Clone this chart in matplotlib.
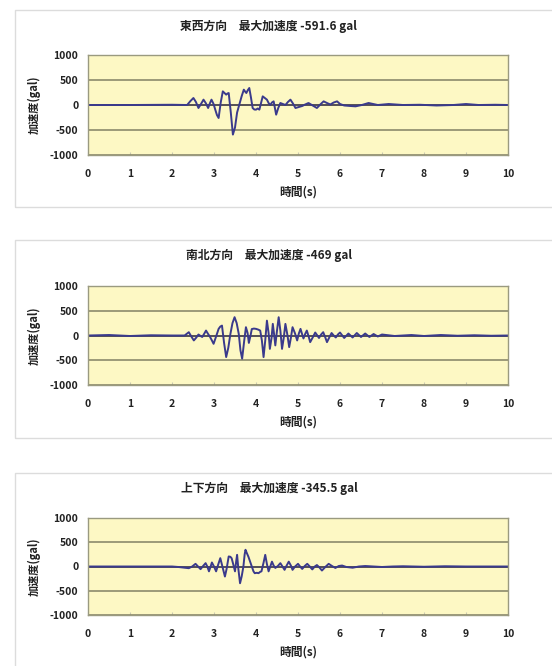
import matplotlib
matplotlib.use("Agg")
import matplotlib.pyplot as plt
from matplotlib.patches import Rectangle

plt.rcParams['font.family'] = ['Noto Sans CJK JP', 'DejaVu Sans']
plt.rcParams['axes.unicode_minus'] = False

W, H = 552, 666

titles = ["東西方向　最大加速度 -591.6 gal",
          "南北方向　最大加速度 -469 gal",
          "上下方向　最大加速度 -345.5 gal"]
ylabel = "加速度(gal)"
xlabel = "時間(s)"
xticks = [0, 1, 2, 3, 4, 5, 6, 7, 8, 9, 10]
yticks = [-1000, -500, 0, 500, 1000]

# East-West
ew_t = [0.0, 1.0, 2.0, 2.36, 2.44, 2.51, 2.57, 2.63, 2.69, 2.75, 2.81, 2.86, 2.9,
        2.94, 2.99, 3.03, 3.07, 3.11, 3.16, 3.21, 3.25, 3.29, 3.32, 3.35, 3.40,
        3.45, 3.50, 3.55, 3.6, 3.66, 3.71, 3.74, 3.77, 3.8, 3.84, 3.88, 3.92,
        3.96, 4.0, 4.04, 4.08, 4.12, 4.16, 4.21, 4.26, 4.30, 4.34, 4.38, 4.42,
        4.45, 4.48, 4.53, 4.58, 4.64, 4.7, 4.76, 4.82, 4.88, 4.94, 5.02, 5.1,
        5.17, 5.25, 5.35, 5.45, 5.53, 5.61, 5.69, 5.77, 5.85, 5.93, 6.0, 6.1,
        6.25, 6.37, 6.52, 6.68, 6.9, 7.16, 7.5, 7.9, 8.3, 8.7, 9.0, 9.3, 9.7, 10.0]
ew_v = [0, 0, 5, 0, 80, 140, 60, -60, 20, 107, 30, -60, 30,
        107, 20, -93, -200, -260, 50, 273, 240, 207, 230, 240, -150,
        -591.6, -450, -150, 0, 180, 307, 270, 240, 290, 340, 150, -60,
        -90, -93, -70, -93, 40, 173, 140, 107, 40, 0, 50, 73,
        -60, -193, -60, 40, 20, 0, 60, 107, 30, -60, -40, -20,
        10, 40, -10, -60, 10, 73, 40, 10, 50, 73, 20, -10,
        -20, -27, 0, 40, 0, 20, 0, 5, -10, 0, 20, 0, 5, 0]

# North-South
ns_t = [0.0, 0.5, 1.0, 1.5, 2.0, 2.3, 2.4, 2.46, 2.52, 2.58, 2.63, 2.68, 2.72,
        2.77, 2.81, 2.86, 2.9, 2.95, 2.99, 3.05, 3.11, 3.15, 3.19, 3.24, 3.29,
        3.34, 3.39, 3.44, 3.49, 3.54, 3.59, 3.63, 3.67, 3.72, 3.76, 3.8, 3.83,
        3.87, 3.9, 3.95, 4.0, 4.05, 4.1, 4.14, 4.18, 4.22, 4.26, 4.3, 4.33,
        4.37, 4.40, 4.43, 4.46, 4.50, 4.54, 4.58, 4.62, 4.66, 4.70, 4.75, 4.79,
        4.83, 4.87, 4.93, 4.98, 5.02, 5.06, 5.1, 5.13, 5.17, 5.21, 5.25, 5.29,
        5.35, 5.41, 5.46, 5.5, 5.55, 5.6, 5.65, 5.69, 5.75, 5.8, 5.85, 5.9,
        5.95, 6.0, 6.1, 6.2, 6.3, 6.4, 6.5, 6.6, 6.7, 6.8, 6.9, 7.0,
        7.3, 7.7, 8.0, 8.4, 8.8, 9.2, 9.6, 10.0]
ns_v = [0, 10, -10, 5, 0, 0, 67, -20, -100, -40, 20, -10, -30,
        40, 100, 30, -20, -100, -168, -20, 134, 180, 200, -150, -436,
        -250, 30, 250, 370, 250, 30, -300, -469, -100, 168, 50, -150,
        0, 130, 140, 134, 120, 100, -100, -436, -100, 300, 50, -270,
        -50, 235, 30, -200, 100, 370, 100, -270, -50, 235, 0, -235,
        -50, 168, 40, -100, 40, 134, 20, -60, 30, 100, -10, -134,
        -40, 60, 0, -50, 20, 67, -40, -134, -30, 50, 0, -40,
        20, 60, -50, 40, -40, 50, -30, 40, -30, 30, -20, 20,
        -10, 10, -10, 10, -5, 5, -5, 0]

# Up-Down
ud_t = [0.0, 1.0, 2.0, 2.15, 2.3, 2.4, 2.48, 2.56, 2.62, 2.68, 2.74, 2.8, 2.84,
        2.88, 2.92, 2.95, 3.0, 3.05, 3.1, 3.15, 3.2, 3.26, 3.3, 3.35, 3.39,
        3.42, 3.46, 3.5, 3.53, 3.55, 3.58, 3.62, 3.66, 3.7, 3.73, 3.75, 3.78,
        3.82, 3.86, 3.9, 3.94, 3.97, 4.02, 4.06, 4.1, 4.13, 4.18, 4.22, 4.26,
        4.3, 4.34, 4.38, 4.42, 4.46, 4.52, 4.58, 4.63, 4.68, 4.73, 4.78, 4.83,
        4.87, 4.93, 5.0, 5.05, 5.1, 5.16, 5.22, 5.28, 5.34, 5.4, 5.45, 5.51,
        5.57, 5.65, 5.73, 5.81, 5.89, 5.97, 6.05, 6.15, 6.3, 6.45, 6.6, 6.8,
        7.0, 7.25, 7.5, 8.0, 8.5, 9.0, 10.0]
ud_v = [0, 0, 0, -10, -25, -35, 0, 55, 0, -55, 10, 69, 0,
        -100, 0, 83, 0, -100, 40, 172, 0, -207, -50, 207, 200,
        170, 40, -100, 120, 240, -50, -345.5, -200, 0, 250, 345, 280,
        200, 100, 0, -100, -138, -130, -138, -110, -100, 80, 240, 50,
        -100, 0, 100, 20, -30, 10, 69, 0, -69, 20, 100, 20,
        -69, 0, 55, 0, -50, 10, 55, 0, -60, 0, 30, -20,
        -83, -10, 55, 10, -30, 10, 20, -10, -25, 0, 10, 0,
        -10, 0, 5, -5, 5, 0, 0]

series = [(ew_t, ew_v), (ns_t, ns_v), (ud_t, ud_v)]

# layout in pixels (left, top, right, bottom) of plot areas
plot_boxes = [(88, 55, 508, 155), (88, 286, 508, 385), (88, 518, 508, 615)]
chart_boxes = [(15, 10, 560, 207), (15, 240, 560, 438), (15, 473, 560, 680)]
title_y = [26, 255, 488]
title_x = 269

fig = plt.figure(figsize=(W / 100, H / 100), dpi=100)
fig.patch.set_facecolor('white')

for (l, t, r, b) in chart_boxes:
    fig.patches.append(Rectangle((l / W, 1 - b / H), (r - l) / W, (b - t) / H,
                                 transform=fig.transFigure, fill=False,
                                 edgecolor='#dcdcdc', lw=1.0))

for i, ((tt, vv), (l, t, r, b)) in enumerate(zip(series, plot_boxes)):
    ax = fig.add_axes([l / W, 1 - b / H, (r - l) / W, (b - t) / H])
    ax.set_facecolor('#fdf8c4')
    ax.set_xlim(0, 10)
    ax.set_ylim(-1000, 1000)
    ax.set_yticks(yticks)
    ax.set_xticks(xticks)
    ax.yaxis.grid(True, color='#8c8a6c', lw=1.2)
    ax.set_axisbelow(True)
    ax.axhline(0, color='#4a4550', lw=1.2, zorder=1.5)
    ax.plot(tt, vv, color='#3a3a8c', lw=1.4, solid_joinstyle='round')
    for s in ax.spines.values():
        s.set_color('#9a9a80')
        s.set_linewidth(1.0)
    ax.tick_params(axis='both', length=2, color='#c8c8b0', labelsize=7.5,
                   labelcolor='#222222')
    ax.tick_params(axis='x', direction='in', pad=10)
    ax.tick_params(axis='y', length=0, pad=7)
    for lab in ax.get_xticklabels() + ax.get_yticklabels():
        lab.set_fontweight('bold')
    ax.set_xlabel(xlabel, fontsize=8.5, fontweight='bold', labelpad=5, color='#222222')
    ax.set_ylabel(ylabel, fontsize=8, fontweight='bold', labelpad=6, color='#222222')
    fig.text(title_x / W, 1 - title_y[i] / H, titles[i], ha='center',
             va='center', fontsize=8.5, fontweight='bold', color='#222222')

fig.savefig('out.png', dpi=100, facecolor='white')
